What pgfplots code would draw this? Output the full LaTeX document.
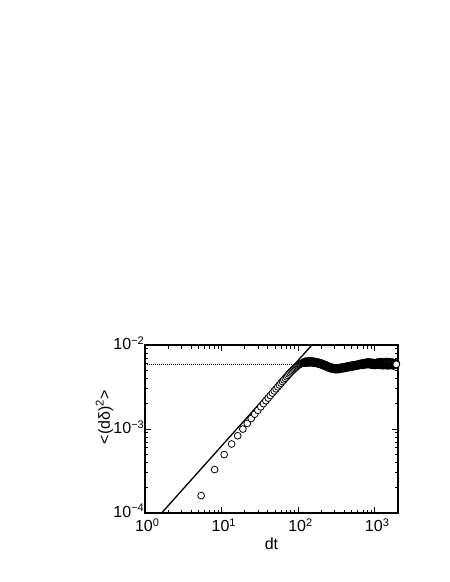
\documentclass[border=0pt]{standalone}
\usepackage{fontspec}
\setmainfont{Liberation Sans}
\usepackage{pgfplots}
\pgfplotsset{compat=1.18}

\newcommand{\ee}[1]{10\raisebox{5.5pt}{\fontsize{11}{13}\selectfont #1}}

% mean square displacement, short lags (separate circles)
\pgfplotstableread{
x y
5.4 0.161e-3
8.1 0.329e-3
10.8 0.496e-3
13.5 0.663e-3
16.2 0.831e-3
18.9 0.998e-3
21.6 1.166e-3
24.3 1.333e-3
27.0 1.500e-3
29.7 1.668e-3
32.4 1.835e-3
35.1 2.003e-3
37.8 2.170e-3
40.5 2.337e-3
43.2 2.505e-3
45.9 2.672e-3
48.6 2.840e-3
51.3 3.007e-3
54.0 3.174e-3
56.7 3.342e-3
59.4 3.509e-3
62.1 3.676e-3
64.8 3.844e-3
67.5 4.011e-3
70.2 4.178e-3
72.9 4.346e-3
75.6 4.505e-3
78.3 4.665e-3
81.0 4.820e-3
83.7 4.970e-3
86.4 5.115e-3
89.1 5.255e-3
91.8 5.390e-3
94.5 5.515e-3
97.2 5.630e-3
99.9 5.735e-3
102.6 5.830e-3
105.3 5.915e-3
108.0 5.990e-3
110.7 6.055e-3
113.4 6.110e-3
116.1 6.155e-3
118.8 6.195e-3
}\msdshort

% long lags (dense, overlapping circles)
\pgfplotstableread{
x y
121.5 6.225e-3
125 6.25e-3
129 6.27e-3
133 6.29e-3
137 6.30e-3
141 6.30e-3
145 6.30e-3
150 6.29e-3
154 6.27e-3
159 6.25e-3
164 6.22e-3
169 6.19e-3
174 6.16e-3
179 6.12e-3
184 6.08e-3
190 6.03e-3
196 5.98e-3
202 5.92e-3
208 5.86e-3
214 5.80e-3
220 5.74e-3
227 5.67e-3
234 5.60e-3
241 5.53e-3
248 5.47e-3
256 5.41e-3
263 5.36e-3
271 5.32e-3
279 5.28e-3
288 5.25e-3
296 5.23e-3
305 5.22e-3
314 5.21e-3
324 5.22e-3
333 5.23e-3
343 5.25e-3
354 5.28e-3
364 5.31e-3
375 5.33e-3
386 5.36e-3
398 5.38e-3
410 5.41e-3
422 5.44e-3
435 5.47e-3
448 5.50e-3
461 5.53e-3
475 5.57e-3
489 5.60e-3
504 5.62e-3
519 5.64e-3
535 5.66e-3
551 5.69e-3
567 5.72e-3
584 5.75e-3
602 5.79e-3
620 5.84e-3
638 5.88e-3
657 5.93e-3
677 5.83e-3
697 5.97e-3
718 6.04e-3
740 5.90e-3
762 6.07e-3
785 6.12e-3
808 5.96e-3
832 6.18e-3
857 6.05e-3
883 5.90e-3
910 6.10e-3
937 5.86e-3
965 6.03e-3
994 5.83e-3
1024 5.96e-3
1054 6.10e-3
1086 5.88e-3
1119 6.14e-3
1152 5.85e-3
1187 6.22e-3
1222 6.02e-3
1259 5.78e-3
1297 6.17e-3
1336 5.83e-3
1376 6.06e-3
1417 6.24e-3
1460 5.76e-3
1503 6.00e-3
1548 6.20e-3
1595 5.80e-3
1643 5.96e-3
1692 6.12e-3
1743 5.74e-3
1795 5.92e-3
1849 6.02e-3
}\msdlong

\begin{document}
\begin{tikzpicture}
\path (0pt,0pt) rectangle (450pt,582pt);
\begin{axis}[
  at={(145pt,69pt)}, anchor=south west,
  scale only axis, width=253pt, height=168pt,
  xmode=log, ymode=log,
  xmin=1, xmax=2000, ymin=1e-4, ymax=1e-2,
  axis line style={line width=1.7pt},
  tick style={line width=0.9pt, black},
  major tick length=6pt, minor tick length=3.5pt,
  xtick={1,10,100,1000},
  xticklabels={\ee{0},\ee{1},\ee{2},\ee{3}},
  ytick={1e-4,1e-3,1e-2},
  yticklabels={\ee{−4},\ee{−3},\ee{−2}},
  tick label style={font=\fontsize{16}{19}\selectfont},
  xticklabel style={inner sep=0pt, yshift=-5.5pt, xshift=2pt},
  yticklabel style={inner sep=0pt, xshift=-1pt, yshift=2pt},
  label style={font=\fontsize{16}{19}\selectfont},
  xlabel={dt},
  ylabel={<(dδ)\textsuperscript{2}>},
  xlabel style={at={(axis description cs:0.5,0)}, anchor=north, inner sep=0pt, yshift=-25pt},
  ylabel style={at={(axis description cs:-0.125,0.57)}, anchor=south, inner sep=0pt},
]
\addplot[black, line width=1.1pt, dash pattern=on 1pt off 1pt] coordinates {(1,0.0059) (2000,0.0059)};
\addplot[only marks, mark=*, mark size=3.4pt, mark options={fill=white, draw=black, line width=0.8pt}] table {\msdshort};
\addplot[only marks, mark=*, mark size=3.5pt, mark options={fill=white, draw=black, line width=2.2pt}] table {\msdlong};
\addplot[only marks, mark=*, mark size=3.4pt, mark options={fill=white, draw=black, line width=0.8pt}] coordinates {(1900,5.88e-3)};
\addplot[black, line width=1.3pt] coordinates {(1.4,8.47e-5) (180,0.012)};
\end{axis}
\end{tikzpicture}
\end{document}
